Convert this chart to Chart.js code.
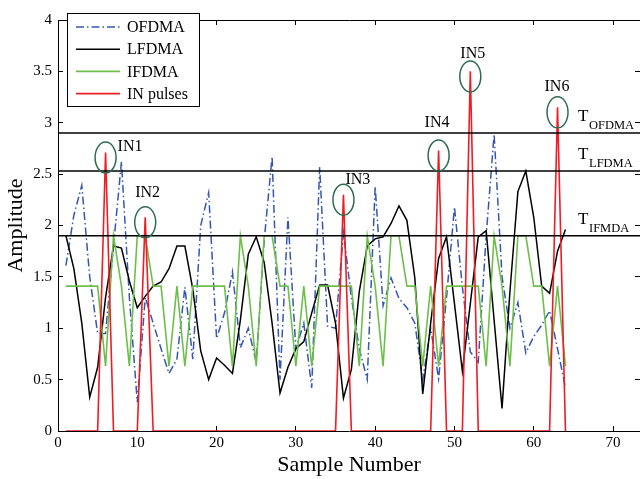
<!DOCTYPE html>
<html>
<head>
<meta charset="utf-8">
<script src="https://cdn.jsdelivr.net/npm/chart.js@4.4.0/dist/chart.umd.min.js"></script>
<style>
  html, body { margin: 0; padding: 0; background: #fff; }
  #wrap { width: 640px; height: 479px; }
</style>
</head>
<body>
<div id="wrap"><canvas id="chart" width="640" height="479"></canvas></div>
<script>
// --- values ---
const samples = Array.from({ length: 64 }, (_, i) => i + 1);

const ofdma = [
    1.61, 2.10, 2.39, 1.50, 0.95, 0.95, 1.80, 2.62, 1.30, 0.28, 1.30, 1.05, 0.80, 0.56, 0.70, 1.40,
    0.70, 2.00, 2.32, 0.90, 1.15, 1.55, 0.81, 1.00, 0.67, 1.85, 2.67, 0.50, 2.08, 0.80, 1.05, 0.42,
    2.57, 1.02, 1.00, 1.93, 1.30, 0.80, 0.50, 2.38, 1.22, 1.49, 1.29, 1.20, 1.05, 0.50, 1.00, 0.51,
    1.30, 2.18, 1.40, 0.77, 0.67, 1.90, 2.89, 1.50, 1.00, 1.25, 0.76, 0.92, 1.03, 1.17, 0.80, 0.42
];
const lfdma = [
    1.90, 1.58, 1.05, 0.33, 0.62, 1.30, 1.80, 1.78, 1.46, 1.20, 1.31, 1.41, 1.45, 1.58, 1.80, 1.80,
    1.38, 0.78, 0.50, 0.71, 0.64, 0.56, 1.08, 1.72, 1.89, 1.64, 1.05, 0.37, 0.62, 0.80, 0.87, 1.15,
    1.42, 1.42, 1.05, 0.32, 0.60, 1.36, 1.80, 1.87, 1.89, 2.02, 2.19, 2.05, 1.49, 0.36, 1.05, 1.68,
    1.89, 1.24, 0.58, 1.24, 1.89, 1.95, 1.08, 0.22, 1.36, 2.33, 2.53, 2.08, 1.41, 1.34, 1.75, 1.96
];
const ifdma = [
    1.41, 1.41, 1.41, 1.41, 1.41, 0.63, 1.90, 1.41, 0.63, 1.90, 1.90, 1.41, 1.41, 0.63, 1.41, 0.63,
    1.41, 1.41, 1.41, 1.41, 1.41, 0.63, 1.90, 1.41, 0.63, 1.90, 1.90, 1.41, 1.41, 0.63, 1.41, 0.63,
    1.41, 1.41, 1.41, 1.41, 1.41, 0.63, 1.90, 1.41, 0.63, 1.90, 1.90, 1.41, 1.41, 0.63, 1.41, 0.63,
    1.41, 1.41, 1.41, 1.41, 1.41, 0.63, 1.90, 1.41, 0.63, 1.90, 1.90, 1.41, 1.41, 0.63, 1.41, 0.63
];
const inPulses = [
    0, 0, 0, 0, 0, 2.71, 0, 0, 0, 0, 2.08, 0, 0, 0, 0, 0,
    0, 0, 0, 0, 0, 0, 0, 0, 0, 0, 0, 0, 0, 0, 0, 0,
    0, 0, 0, 2.30, 0, 0, 0, 0, 0, 0, 0, 0, 0, 0, 0, 2.73,
    0, 0, 0, 3.50, 0, 0, 0, 0, 0, 0, 0, 0, 0, 0, 3.15, 0
];
const pulseNames = ['IN1', 'IN2', 'IN3', 'IN4', 'IN5', 'IN6'];
const thresholds = [2.9, 2.53, 1.9];
const thresholdNames = ['OFDMA', 'LFDMA', 'IFMDA'];
const xTicks = [0, 10, 20, 30, 40, 50, 60, 70];
const yTicks = [0, 0.5, 1, 1.5, 2, 2.5, 3, 3.5, 4];
const X_MAX = 73.4;

const serif = "'Liberation Serif', 'Times New Roman', serif";
const BLUE = '#3557b0';
const GREEN = '#6dbf4a';
const RED = '#f01c24';
const RING = '#2f6a52';

Chart.defaults.font.family = serif;
Chart.defaults.color = '#000';

function toPoints(vals) {
    return vals.map((v, i) => ({ x: samples[i], y: v }));
}

// circles, IN labels, threshold names and the legend box
const annotate = {
    id: 'annotate',
    afterDatasetsDraw(chart) {
        const c = chart.ctx;
        const xs = chart.scales.x, ys = chart.scales.y;
        // label offsets from each pulse tip (px)
        const labelOff = [[12, -6], [-10, -24], [2, -15], [-14, -28], [-10, -18], [-13, -21]];
        c.save();
        let k = 0;
        inPulses.forEach((v, i) => {
            if (v <= 0) return;
            const px = xs.getPixelForValue(samples[i]);
            const py = ys.getPixelForValue(v);
            c.strokeStyle = RING;
            c.lineWidth = 1.5;
            c.beginPath();
            c.ellipse(px, py + 5, 10.5, 15.5, 0, 0, Math.PI * 2);
            c.stroke();
            c.fillStyle = '#000';
            c.font = '16px ' + serif;
            c.textAlign = 'left';
            c.textBaseline = 'middle';
            const o = labelOff[k] || [10, -20];
            c.fillText(pulseNames[k], px + o[0], py + o[1]);
            k++;
        });

        // threshold names at the right
        thresholds.forEach((t, i) => {
            const py = ys.getPixelForValue(t);
            c.textAlign = 'left';
            c.textBaseline = 'alphabetic';
            c.font = '17px ' + serif;
            c.fillText('T', 578, py - 12);
            c.font = '12.5px ' + serif;
            c.fillText(thresholdNames[i], 589, py - 4);
        });

        // legend
        const lx = 67, ly = 13, lw = 132, lh = 93;
        c.fillStyle = '#fff';
        c.fillRect(lx, ly, lw, lh);
        c.strokeStyle = '#000';
        c.lineWidth = 1;
        c.setLineDash([]);
        c.strokeRect(lx + 0.5, ly + 0.5, lw, lh);
        const items = chart.data.datasets.filter(d => d.label);
        items.forEach((d, i) => {
            const y = 27 + i * 22.2;
            c.strokeStyle = d.borderColor;
            c.lineWidth = d.borderWidth;
            c.setLineDash(d.borderDash || []);
            c.beginPath();
            c.moveTo(76, y);
            c.lineTo(120, y);
            c.stroke();
            c.setLineDash([]);
            c.fillStyle = '#000';
            c.font = '16px ' + serif;
            c.textAlign = 'left';
            c.textBaseline = 'middle';
            c.fillText(d.label, 127, y + 1);
        });
        c.restore();
    }
};

const setTicks = list => scale => { scale.ticks = list.map(v => ({ value: v })); };
const plainLabel = v => String(v);

const frameGrid = { drawOnChartArea: false, tickLength: -5, color: '#000', lineWidth: 1 };
const frameBorder = { color: '#000', width: 1 };

new Chart(document.getElementById('chart').getContext('2d'), {
    type: 'line',
    data: {
        datasets: [
            ...thresholds.map(t => ({
                data: [{ x: 0, y: t }, { x: X_MAX, y: t }],
                borderColor: '#000',
                borderWidth: 1.6,
                order: 0
            })),
            { label: 'OFDMA', data: toPoints(ofdma), borderColor: BLUE, borderWidth: 1.5, borderDash: [8, 3, 1.5, 3], order: 4 },
            { label: 'LFDMA', data: toPoints(lfdma), borderColor: '#000', borderWidth: 1.5, order: 3 },
            { label: 'IFDMA', data: toPoints(ifdma), borderColor: GREEN, borderWidth: 1.6, order: 2 },
            { label: 'IN pulses', data: toPoints(inPulses), borderColor: RED, borderWidth: 1.6, order: 1 }
        ]
    },
    options: {
        responsive: false,
        animation: false,
        layout: { padding: 0 },
        elements: { point: { radius: 0 }, line: { tension: 0, fill: false } },
        plugins: { legend: { display: false }, tooltip: { enabled: false } },
        scales: {
            x: {
                type: 'linear', position: 'bottom', min: 0, max: X_MAX,
                afterBuildTicks: setTicks(xTicks),
                afterFit: s => { s.height = 48; },
                grid: frameGrid, border: frameBorder,
                ticks: { padding: 8, font: { size: 15 }, maxRotation: 0, color: '#000', callback: plainLabel },
                title: { display: true, text: 'Sample Number', font: { size: 22 }, padding: { top: 0, bottom: 1 }, color: '#000' }
            },
            x2: {
                type: 'linear', position: 'top', min: 0, max: X_MAX,
                afterBuildTicks: setTicks(xTicks),
                afterFit: s => { s.height = 7; },
                grid: frameGrid, border: frameBorder,
                ticks: { display: false }
            },
            y: {
                type: 'linear', position: 'left', min: 0, max: 4,
                afterBuildTicks: setTicks(yTicks),
                afterFit: s => { s.width = 58; },
                grid: frameGrid, border: frameBorder,
                ticks: { padding: 11, font: { size: 15 }, color: '#000', callback: plainLabel },
                title: { display: true, text: 'Amplitude', font: { size: 22 }, padding: { top: 3, bottom: 0 }, color: '#000' }
            },
            y2: {
                type: 'linear', position: 'right', min: 0, max: 4,
                afterBuildTicks: setTicks(yTicks),
                afterFit: s => { s.width = 0; },
                grid: frameGrid, border: frameBorder,
                ticks: { display: false }
            }
        }
    },
    plugins: [annotate]
});
</script>
</body>
</html>
